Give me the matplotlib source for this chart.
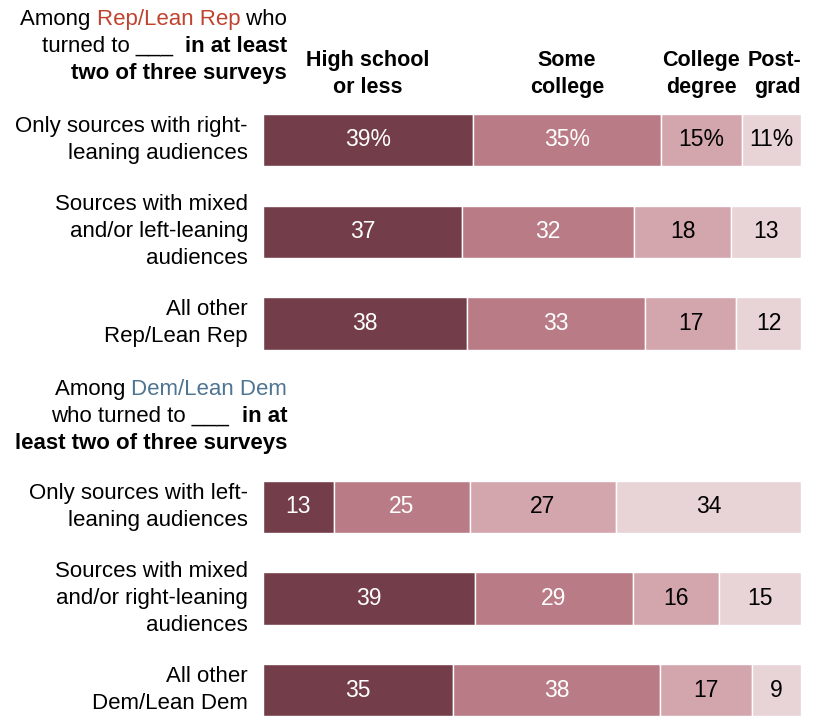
import matplotlib
matplotlib.use("Agg")
import matplotlib.pyplot as plt

# Education shares (%) for each news-source group
categories = ["High school\nor less", "Some\ncollege", "College\ndegree", "Post-\ngrad"]
row_labels = [
    "Only sources with right-\nleaning audiences",
    "Sources with mixed\nand/or left-leaning\naudiences",
    "All other\nRep/Lean Rep",
    "Only sources with left-\nleaning audiences",
    "Sources with mixed\nand/or right-leaning\naudiences",
    "All other\nDem/Lean Dem",
]
high_school = [39, 37, 38, 13, 39, 35]
some_college = [35, 32, 33, 25, 29, 38]
college_degree = [15, 18, 17, 27, 16, 17]
postgrad = [11, 13, 12, 34, 15, 9]

series = [high_school, some_college, college_degree, postgrad]
colors = ["#733E49", "#B97B86", "#D3A6AD", "#E8D3D7"]
text_colors = ["white", "white", "black", "black"]
rep_color = "#C0432F"
dem_color = "#4F7592"

plt.rcParams["font.family"] = ["Liberation Sans", "DejaVu Sans"]
BOLD_FAM = ["Liberation Sans Narrow", "Liberation Sans"]

W, H = 813, 717
fig = plt.figure(figsize=(W / 100, H / 100), dpi=100)

# layout: rows spaced evenly, with a two-row gap before the second group
row_pos = [0, 1, 2, 4, 5, 6]
px_per_row = 91.7
y0_px = 140
ax_left, ax_right = 263, 801
ax = fig.add_axes([ax_left / W, 0, (ax_right - ax_left) / W, 1])
ax.set_xlim(0, 100)
ax.set_ylim((H - y0_px) / px_per_row, -y0_px / px_per_row)
ax.axis("off")

bar_h = 0.57
for i, y in enumerate(row_pos):
    total = sum(vals[i] for vals in series)
    left = 0
    for k, vals in enumerate(series):
        v = vals[i]
        w = v / total * 100  # bars fill the full width (rounded shares)
        ax.barh(y, w, left=left, height=bar_h, color=colors[k],
                edgecolor="white", linewidth=1.0)
        lab = f"{v}%" if i == 0 else f"{v}"
        ax.text(left + w / 2, y, lab, ha="center", va="center",
                color=text_colors[k], fontsize=16.5)
        left += w
    ax.text(-2.8, y, row_labels[i], ha="right", va="center", fontsize=16,
            linespacing=1.38)

# column headers centred over the first row's segments
total0 = sum(vals[0] for vals in series)
left = 0
for k, vals in enumerate(series):
    w = vals[0] / total0 * 100
    if k == len(series) - 1:
        ax.text(100, -0.72, categories[k], ha="right", va="center", fontsize=15.5,
                fontweight="bold", linespacing=1.32, family=BOLD_FAM)
    else:
        ax.text(left + w / 2, -0.72, categories[k], ha="center", va="center",
                fontsize=15.5, fontweight="bold", linespacing=1.32, family=BOLD_FAM)
    left += w

fig.canvas.draw()
renderer = fig.canvas.get_renderer()


def rich_line(x_right_px, y_px, pieces, size=16):
    """Draw a right-aligned line built from (text, color, weight) pieces."""
    x = x_right_px
    for txt, col, wt in reversed(pieces):
        fam = BOLD_FAM if wt == "bold" else ["Liberation Sans"]
        t = fig.text(x / W, 1 - y_px / H, txt, ha="right", va="baseline",
                     color=col, fontsize=size, fontweight=wt, family=fam)
        bb = t.get_window_extent(renderer)
        x = bb.x0


rep_lines = [
    [("Among ", "black", "normal"), ("Rep/Lean Rep", rep_color, "normal"), (" who", "black", "normal")],
    [("turned to ___  ", "black", "normal"), ("in at least", "black", "bold")],
    [("two of three surveys", "black", "bold")],
]
dem_lines = [
    [("Among ", "black", "normal"), ("Dem/Lean Dem", dem_color, "normal")],
    [("who turned to ___  ", "black", "normal"), ("in at", "black", "bold")],
    [("least two of three surveys", "black", "bold")],
]
for j, pieces in enumerate(rep_lines):
    rich_line(287, 25 + 27 * j, pieces)
for j, pieces in enumerate(dem_lines):
    rich_line(287, 395 + 27 * j, pieces)

fig.savefig("out.png", dpi=100)
